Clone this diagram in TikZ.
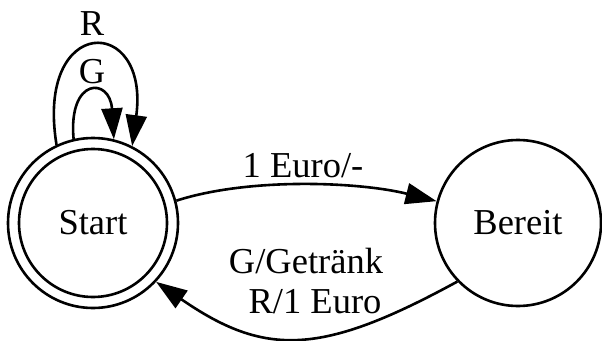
\documentclass[tikz,border=0pt]{standalone}
\usepackage{fontspec}
\setmainfont{Liberation Serif}
\usetikzlibrary{arrows.meta}
\begin{document}
\begin{tikzpicture}[x=1pt,y=-1pt,
  state/.style={circle,draw,line width=2.6pt,inner sep=0pt,font=\fontsize{36.5}{40}\selectfont},
  trans/.style={line width=2.6pt,-{Triangle[length=31pt 0 0,width=21pt 0 0]}},
  lbl/.style={anchor=base,inner sep=0pt,font=\fontsize{36.5}{40}\selectfont}]
\useasboundingbox (0,0) rectangle (602,340);

% states
\node[state,minimum size=170pt] (start) at (93,223) {Start};
\draw[line width=2.6pt] (start.center) circle[radius=74];
\node[state,minimum size=166pt] (bereit) at (518,223) {Bereit};

% self loops on Start
\draw[trans] (start.115) .. controls (35,14) and (150,14) .. (start.63);
\draw[trans] (start.103) .. controls (68,77) and (110,77) .. (start.76);
\node[lbl] (lr) at (92,35) {R};
\node[lbl] (lg) at (92,83) {G};

% Start -> Bereit
\draw[trans] (start.15) .. controls (250,177) and (360,182) .. (bereit.165);
\node[lbl] (l1) at (303,177) {1 Euro/-};

% Bereit -> Start
\draw[trans] (bereit.224) .. controls (321,356) and (265,357) .. (start.317);
\node[lbl] (l2) at (306,273) {G/Getränk};
\node[lbl] (l3) at (315,313) {R/1 Euro};
\end{tikzpicture}
\end{document}
